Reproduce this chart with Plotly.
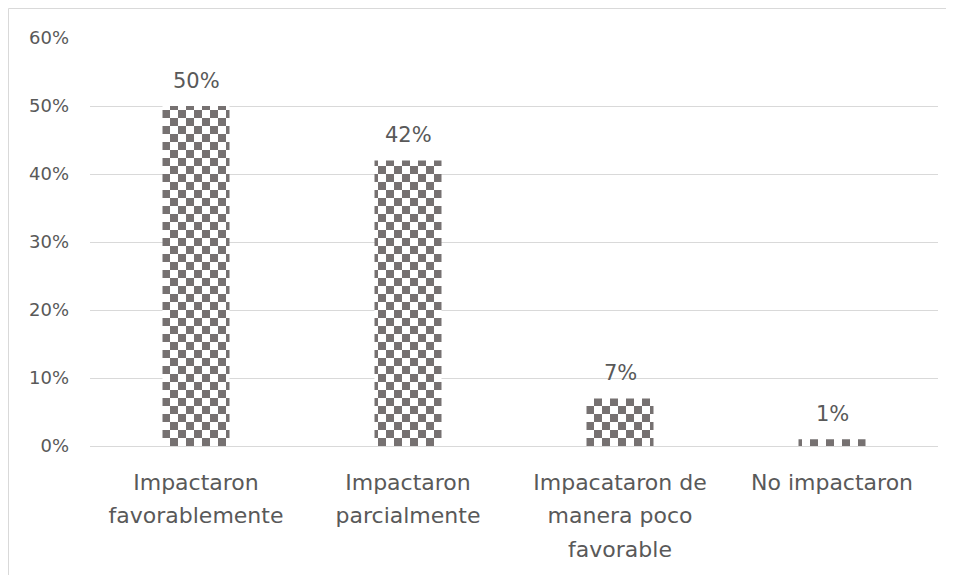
import plotly.graph_objects as go

categories = [
    "Impactaron<br>favorablemente",
    "Impactaron<br>parcialmente",
    "Impacataron de<br>manera poco<br>favorable",
    "No impactaron",
]
values = [0.50, 0.42, 0.07, 0.01]
value_labels = ["50%", "42%", "7%", "1%"]
tick_vals = [0, 0.1, 0.2, 0.3, 0.4, 0.5, 0.6]
tick_text = ["0%", "10%", "20%", "30%", "40%", "50%", "60%"]

FONT = "DejaVu Sans"
TEXT = "#595959"
GRID = "#d9d9d9"
BAR = "#767171"

# page body has an 8px margin; figure sits at (8, 8)
W, H = 946, 567
L, R, T, B = 82, 16, 30, 129

fig = go.Figure()
fig.add_trace(go.Bar(
    x=categories,
    y=values,
    marker=dict(
        color="white",
        line=dict(width=0),
        pattern=dict(shape="x", fgcolor=BAR, bgcolor="white", size=16, solidity=0.5),
    ),
    hoverinfo="skip",
))

for c, v, t in zip(categories, values, value_labels):
    fig.add_annotation(x=c, y=v, text=t, showarrow=False, yanchor="middle",
                       yshift=25, font=dict(family=FONT, size=21, color=TEXT))

pw = W - L - R
ph = H - T - B
fig.add_shape(type="rect", xref="paper", yref="paper",
              x0=(0.5 - L) / pw, x1=1.5, y0=-1.0, y1=(H - B - 0.5) / ph,
              line=dict(color=GRID, width=1), fillcolor="rgba(0,0,0,0)", layer="below")

fig.update_layout(
    width=W, height=H,
    margin=dict(l=L, r=R, t=T, b=B),
    paper_bgcolor="white", plot_bgcolor="white",
    bargap=0.684,
    showlegend=False,
    font=dict(family=FONT, color=TEXT),
    xaxis=dict(
        tickfont=dict(family=FONT, size=22, color=TEXT),
        showgrid=False, zeroline=False, showline=False,
        ticks="", ticklabelstandoff=21,
    ),
    yaxis=dict(
        range=[0, 0.6],
        tickvals=tick_vals, ticktext=tick_text,
        tickfont=dict(family=FONT, size=18, color=TEXT),
        showgrid=True, gridcolor=GRID, gridwidth=1,
        zeroline=True, zerolinecolor=GRID, zerolinewidth=1,
        showline=False, ticks="", ticklabelstandoff=20,
    ),
)

post = """
var gd = document.getElementById('{plot_id}');
var ns = 'http://www.w3.org/2000/svg';
gd.querySelectorAll('defs pattern').forEach(function(p){
  while (p.firstChild) p.removeChild(p.firstChild);
  p.setAttribute('width', '16px'); p.setAttribute('height', '16px');
  var r = document.createElementNS(ns, 'rect');
  r.setAttribute('width', '16'); r.setAttribute('height', '16'); r.setAttribute('fill', '#ffffff');
  p.appendChild(r);
  var pa = document.createElementNS(ns, 'path');
  pa.setAttribute('d', 'M0,0h8v8h-8zM8,8h8v8h-8z');
  pa.setAttribute('fill', '%s');
  p.appendChild(pa);
});
gd.querySelectorAll('.xtick text tspan.line').forEach(function(t){
  var d = parseFloat(t.getAttribute('dy'));
  if (!isNaN(d) && d > 0) t.setAttribute('dy', (d / 1.3 * 1.52) + 'em');
});
""" % BAR

fig.write_html("out.html", post_script=post)
